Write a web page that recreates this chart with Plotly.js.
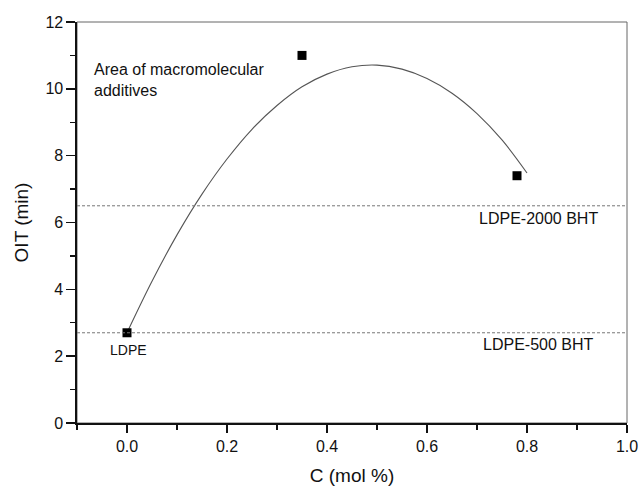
<!DOCTYPE html>
<html>
<head>
<meta charset="utf-8">
<script src="https://cdn.plot.ly/plotly-3.0.1.min.js"></script>
<style>html,body{margin:0;padding:0;background:#fff;}#chart{width:639px;height:490px;}</style>
</head>
<body>
<div id="chart"></div>
<script>
// Measured data points
var concX = [0.0, 0.35, 0.78];
var oitY = [2.7, 11.0, 7.4];
// Fitted curve
var fitX = [0.0, 0.05, 0.1, 0.15, 0.2, 0.25, 0.3, 0.35, 0.4, 0.45, 0.5, 0.55, 0.6, 0.65, 0.7, 0.75, 0.8];
var fitY = [2.7, 4.24, 5.63, 6.85, 7.9, 8.79, 9.5, 10.06, 10.44, 10.66, 10.71, 10.59, 10.31, 9.87, 9.26, 8.47, 7.48];
// Reference levels
var refLevels = [6.5, 2.7];
var refLabels = ['LDPE-2000 BHT', 'LDPE-500 BHT'];
var refLabelY = [6.11, 2.34];

var FONT = 'Liberation Sans, Arial, sans-serif';
var TXT = '#111';

var traces = [
  {x: fitX, y: fitY, mode: 'lines', line: {color: '#555', width: 1.1, shape: 'spline'}, hoverinfo: 'skip'},
  {x: concX, y: oitY, mode: 'markers', marker: {symbol: 'square', size: 9, color: '#000'}}
];

var shapes = refLevels.map(function (v) {
  return {type: 'line', xref: 'paper', x0: 0, x1: 1, yref: 'y', y0: v, y1: v,
          line: {color: '#777', width: 1, dash: '3px,2px'}};
});
shapes.push({type: 'rect', xref: 'paper', yref: 'paper', x0: 0, x1: 1, y0: 0, y1: 1,
             line: {color: '#666', width: 1}, layer: 'below'});

var annotations = refLabels.map(function (t, i) {
  return {text: t, x: 0.822, y: refLabelY[i], xref: 'x', yref: 'y', showarrow: false,
          xanchor: 'center', yanchor: 'middle', font: {family: FONT, size: 16, color: TXT}};
});
annotations.push({text: 'LDPE', x: 0.003, y: 2.18, xref: 'x', yref: 'y', showarrow: false,
                  xanchor: 'center', yanchor: 'middle', font: {family: FONT, size: 14, color: TXT}});
annotations.push({text: 'Area of macromolecular<br>additives', x: -0.071, y: 10.26, xref: 'x', yref: 'y',
                  showarrow: false, xanchor: 'left', yanchor: 'middle', align: 'left',
                  font: {family: FONT, size: 16, color: TXT}});

var layout = {
  width: 639, height: 490,
  margin: {l: 77, r: 12, t: 22, b: 67},
  paper_bgcolor: '#fff', plot_bgcolor: '#fff',
  showlegend: false,
  font: {family: FONT, color: TXT},
  xaxis: {
    range: [-0.1, 1.0], tick0: 0, dtick: 0.2, tickformat: '.1f',
    showgrid: false, zeroline: false,
    showline: true, linecolor: '#111', linewidth: 1.6,
    ticks: 'outside', ticklen: 8, tickwidth: 1.6, tickcolor: '#111',
    minor: {dtick: 0.1, ticks: 'outside', ticklen: 5, tickwidth: 1.4, tickcolor: '#111'},
    tickfont: {family: FONT, size: 16, color: TXT},
    title: {text: 'C (mol %)', font: {family: FONT, size: 19, color: TXT}, standoff: 15}
  },
  yaxis: {
    range: [0, 12], tick0: 0, dtick: 2,
    showgrid: false, zeroline: false,
    showline: true, linecolor: '#111', linewidth: 1.6,
    ticks: 'outside', ticklen: 9, tickwidth: 1.6, tickcolor: '#111',
    minor: {dtick: 1, ticks: 'outside', ticklen: 5, tickwidth: 1.4, tickcolor: '#111'},
    tickfont: {family: FONT, size: 16, color: TXT},
    title: {text: 'OIT (min)', font: {family: FONT, size: 19, color: TXT}, standoff: 12}
  },
  shapes: shapes,
  annotations: annotations
};

Plotly.newPlot('chart', traces, layout, {displayModeBar: false, staticPlot: true});
</script>
</body>
</html>
